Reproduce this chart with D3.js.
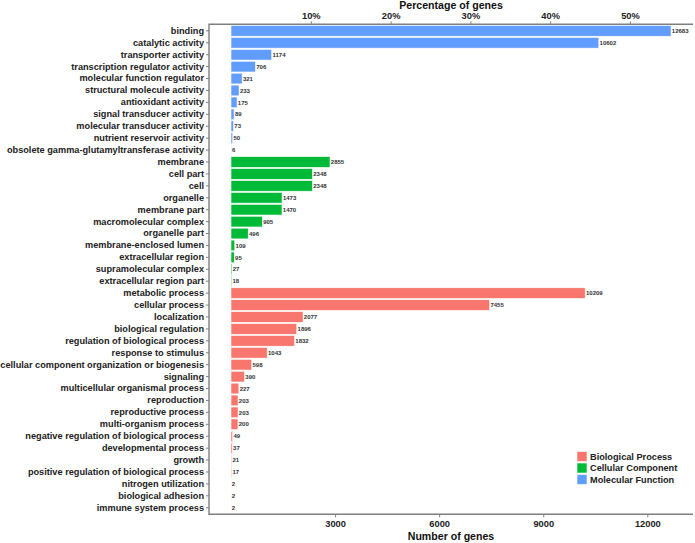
<!DOCTYPE html>
<html>
<head>
<meta charset="utf-8">
<script src="https://d3js.org/d3.v7.min.js"></script>
<style>
  body { margin: 0; background: #fff; }
  svg { display: block; font-family: "Liberation Sans", Arial, sans-serif; font-weight: bold; }
</style>
</head>
<body>
<svg id="chart" width="695" height="543"></svg>
<script>
// GO categories, top to bottom within each ontology
var mfTerms = ["binding", "catalytic activity", "transporter activity", "transcription regulator activity",
  "molecular function regulator", "structural molecule activity", "antioxidant activity",
  "signal transducer activity", "molecular transducer activity", "nutrient reservoir activity",
  "obsolete gamma-glutamyltransferase activity"];
var mfCounts = [12683, 10602, 1174, 706, 321, 233, 175, 89, 73, 50, 6];

var ccTerms = ["membrane", "cell part", "cell", "organelle", "membrane part", "macromolecular complex",
  "organelle part", "membrane-enclosed lumen", "extracellular region", "supramolecular complex",
  "extracellular region part"];
var ccCounts = [2855, 2348, 2348, 1473, 1470, 905, 496, 109, 95, 27, 18];

var bpTerms = ["metabolic process", "cellular process", "localization", "biological regulation",
  "regulation of biological process", "response to stimulus",
  "cellular component organization or biogenesis", "signaling", "multicellular organismal process",
  "reproduction", "reproductive process", "multi-organism process",
  "negative regulation of biological process", "developmental process", "growth",
  "positive regulation of biological process", "nitrogen utilization", "biological adhesion",
  "immune system process"];
var bpCounts = [10209, 7455, 2077, 1896, 1832, 1043, 598, 390, 227, 203, 203, 200, 49, 37, 21, 17, 2, 2, 2];

var ontologies = ["Biological Process", "Cellular Component", "Molecular Function"];
var ontologyColors = ["#F8766D", "#00BA38", "#619CFF"];

var totalGenes = 23000;            // denominator for the percentage axis
var countTicks = [3000, 6000, 9000, 12000];
var pctTicks = [10, 20, 30, 40, 50];

// build rows
var rows = [];
function addRows(terms, counts, onto) {
    terms.forEach(function (t, i) { rows.push({ term: t, count: counts[i], onto: onto }); });
}
addRows(mfTerms, mfCounts, "Molecular Function");
addRows(ccTerms, ccCounts, "Cellular Component");
addRows(bpTerms, bpCounts, "Biological Process");

var svg = d3.select("#chart");
var plotLeft = 209, plotRight = 693, plotTop = 24.3, plotBottom = 514.3;

var maxCount = d3.max(rows, function (d) { return d.count; });
var x = d3.scaleLinear()
    .domain([-0.05 * maxCount, 1.05 * maxCount])
    .range([plotLeft, plotRight]);

// discrete axis with ggplot-like 0.6 expansion
var n = rows.length;
var step = (plotBottom - plotTop) / (n - 1 + 1.2);
var y = d3.scaleBand()
    .domain(rows.map(function (d) { return d.term; }))
    .range([plotTop + 0.1 * step, plotBottom - 0.1 * step])
    .paddingInner(0.1)
    .paddingOuter(0);

var color = d3.scaleOrdinal().domain(ontologies).range(ontologyColors);

// bars
svg.append("g").selectAll("rect")
    .data(rows)
    .enter()
    .append("rect")
    .attr("x", x(0))
    .attr("y", function (d) { return y(d.term); })
    .attr("width", function (d) { return x(d.count) - x(0); })
    .attr("height", y.bandwidth())
    .attr("fill", function (d) { return color(d.onto); })
    .attr("stroke", "#fff")
    .attr("stroke-width", 0.6);

// value labels
svg.append("g").selectAll("text")
    .data(rows)
    .enter()
    .append("text")
    .attr("x", function (d) { return x(d.count) + 0.8; })
    .attr("y", function (d) { return y(d.term) + y.bandwidth() / 2; })
    .attr("dy", "0.36em")
    .attr("font-size", "6px")
    .attr("fill", "#333")
    .text(function (d) { return d.count; });

var axisColor = "#7f7f7f";

// left axis
var yAxis = svg.append("g")
    .attr("transform", "translate(" + plotLeft + ",0)")
    .call(d3.axisLeft(y).tickSize(3).tickPadding(2));
yAxis.select(".domain").remove();
yAxis.selectAll("line").attr("stroke", axisColor).attr("stroke-width", 1);
yAxis.selectAll("text")
    .attr("font-size", "9.2px")
    .attr("font-family", "Liberation Sans, Arial, sans-serif")
    .attr("font-weight", "bold")
    .attr("fill", "#222");

// bottom axis
var xAxis = svg.append("g")
    .attr("transform", "translate(0," + plotBottom + ")")
    .call(d3.axisBottom(x).tickValues(countTicks).tickSize(3).tickPadding(3).tickFormat(d3.format("d")));
xAxis.select(".domain").remove();
xAxis.selectAll("line").attr("stroke", axisColor);
xAxis.selectAll("text")
    .attr("font-size", "9.3px")
    .attr("font-family", "Liberation Sans, Arial, sans-serif")
    .attr("font-weight", "bold")
    .attr("fill", "#222");

// top axis (percentage of genes)
var pct = d3.scaleLinear()
    .domain([x.domain()[0] / totalGenes * 100, x.domain()[1] / totalGenes * 100])
    .range([plotLeft, plotRight]);
var topAxis = svg.append("g")
    .attr("transform", "translate(0," + plotTop + ")")
    .call(d3.axisTop(pct).tickValues(pctTicks).tickSize(3).tickPadding(2)
        .tickFormat(function (d) { return d + "%"; }));
topAxis.select(".domain").remove();
topAxis.selectAll("line").attr("stroke", axisColor);
topAxis.selectAll("text")
    .attr("font-size", "9.3px")
    .attr("font-family", "Liberation Sans, Arial, sans-serif")
    .attr("font-weight", "bold")
    .attr("fill", "#222");

// axis lines
svg.append("path")
    .attr("d", "M" + plotRight + "," + plotTop + "H" + plotLeft + "V" + plotBottom + "H" + plotRight)
    .attr("fill", "none")
    .attr("stroke", axisColor)
    .attr("stroke-width", 1.4);

// titles
svg.append("text")
    .attr("x", (plotLeft + plotRight) / 2)
    .attr("y", 8.6)
    .attr("text-anchor", "middle")
    .attr("font-size", "10.6px")
    .attr("fill", "#111")
    .text("Percentage of genes");
svg.append("text")
    .attr("x", (plotLeft + plotRight) / 2)
    .attr("y", 540)
    .attr("text-anchor", "middle")
    .attr("font-size", "10.6px")
    .attr("fill", "#111")
    .text("Number of genes");

// legend
var legend = svg.append("g").attr("transform", "translate(577,451.5)");
var item = legend.selectAll("g")
    .data(ontologies)
    .enter()
    .append("g")
    .attr("transform", function (d, i) { return "translate(0," + (i * 11.5) + ")"; });
item.append("rect")
    .attr("width", 10)
    .attr("height", 10)
    .attr("fill", function (d) { return color(d); })
    .attr("stroke", "#fff")
    .attr("stroke-width", 0.6);
item.append("text")
    .attr("x", 13)
    .attr("y", 5)
    .attr("dy", "0.36em")
    .attr("font-size", "9.2px")
    .attr("fill", "#222")
    .text(function (d) { return d; });
</script>
</body>
</html>
